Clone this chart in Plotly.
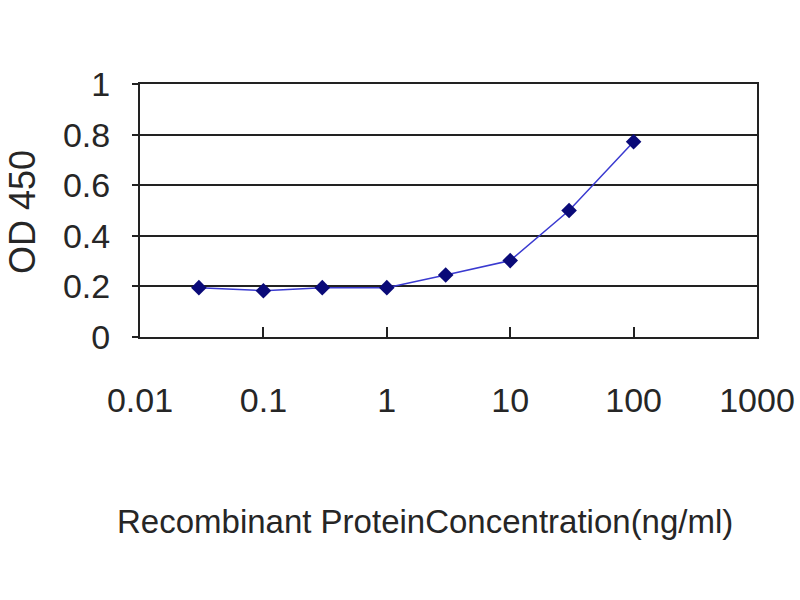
import plotly.graph_objects as go

concentration = [0.03, 0.1, 0.3, 1, 3, 10, 30, 100]
od450 = [0.195, 0.183, 0.195, 0.195, 0.245, 0.302, 0.5, 0.772]

x_tickvals = [0.01, 0.1, 1, 10, 100, 1000]
x_ticktext = ["0.01", "0.1", "1", "10", "100", "1000"]
y_tickvals = [0, 0.2, 0.4, 0.6, 0.8, 1]
y_ticktext = ["0", "0.2", "0.4", "0.6", "0.8", "1"]

x_title = "Recombinant ProteinConcentration(ng/ml)"
y_title = "OD 450"

font_family = "Liberation Sans, Arial, sans-serif"

fig = go.Figure()
fig.add_trace(go.Scatter(
    x=concentration, y=od450, mode="lines+markers",
    line=dict(color="#3a3ad0", width=1.5),
    marker=dict(symbol="diamond", size=12, color="#0a0a78"),
    showlegend=False,
))

fig.update_layout(
    width=800, height=600,
    margin=dict(l=140, r=43, t=84, b=263),
    paper_bgcolor="white", plot_bgcolor="white",
    font=dict(family=font_family, color="#222222"),
    xaxis=dict(
        type="log", range=[-2, 3], automargin=False,
        tickvals=x_tickvals, ticktext=x_ticktext,
        tickfont=dict(size=34, color="#262626"),
        ticks="inside", ticklen=10, tickwidth=1.5, tickcolor="#222222",
        showgrid=False, zeroline=False,
        showline=True, linecolor="#222222", linewidth=2, mirror=True,
        ticklabelstandoff=32,
    ),
    yaxis=dict(
        range=[0, 1], automargin=False,
        tickvals=y_tickvals, ticktext=y_ticktext,
        tickfont=dict(size=34, color="#262626"),
        ticks="outside", ticklen=6, tickwidth=1.5, tickcolor="#222222",
        showgrid=True, gridcolor="#222222", gridwidth=2,
        zeroline=False,
        showline=True, linecolor="#222222", linewidth=2, mirror=True,
        ticklabelstandoff=15,
    ),
    annotations=[
        dict(text=x_title, xref="paper", yref="paper",
             x=(425 - 140) / 617, y=-(521 - 337) / 253,
             xanchor="center", yanchor="middle", showarrow=False,
             font=dict(size=33, color="#262626")),
        dict(text=y_title, xref="paper", yref="paper",
             x=-(140 - 22) / 617, y=(337 - 212) / 253,
             xanchor="center", yanchor="middle", showarrow=False, textangle=-90,
             font=dict(size=36, color="#262626")),
    ],
)

fig.write_html(
    "out.html",
    config={"displayModeBar": False},
    post_script="document.body.style.margin='0';document.body.style.overflow='hidden';",
)
